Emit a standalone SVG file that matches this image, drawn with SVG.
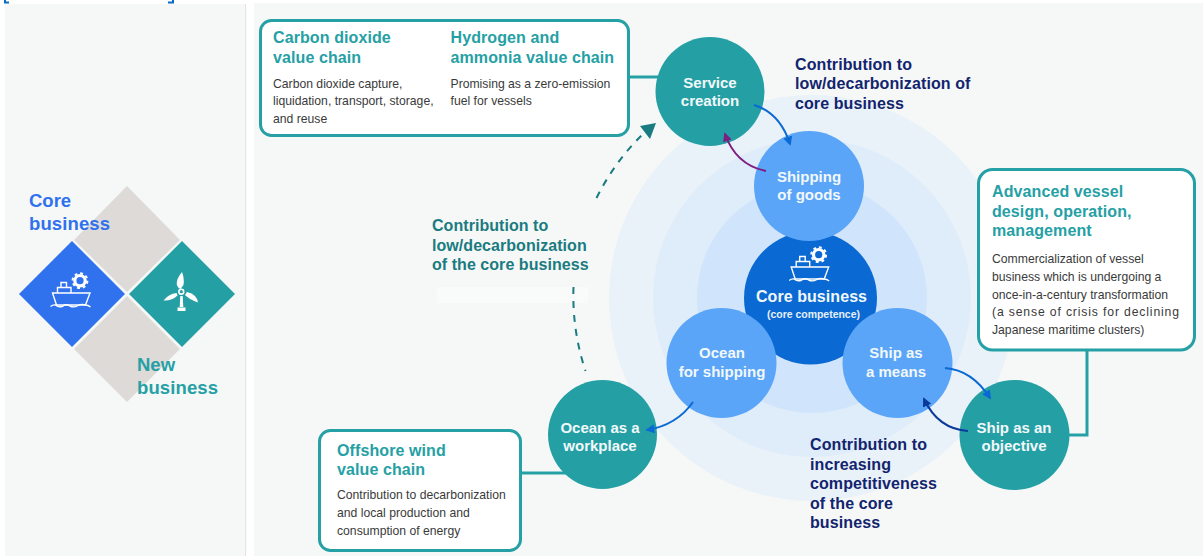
<svg xmlns="http://www.w3.org/2000/svg" width="1203" height="556" viewBox="0 0 1203 556">
<style>
text{font-family:"Liberation Sans",Arial,sans-serif}
.w{font-size:15px;font-weight:700;fill:#f2f8fa;text-anchor:middle}
.t{font-size:16px;font-weight:700;fill:#25a0a5;letter-spacing:.1px}
.b{font-size:12.2px;fill:#3a3a3a}
.n{font-size:16px;font-weight:700;fill:#12246e;letter-spacing:.1px}
.g{font-size:16px;font-weight:700;fill:#1a7b80;letter-spacing:.05px}
.box{fill:#fff;stroke:#25a0a5;stroke-width:3}
.tc{fill:#24a0a5}
.lb{fill:#5aa5f8}
.line{fill:none;stroke:#25a0a5;stroke-width:3}
.ar{fill:none;stroke-width:2}
.dash{fill:none;stroke:#1a7b80;stroke-width:2;stroke-dasharray:7 7}
.ic{fill:none;stroke:#fff;stroke-width:1.4}
</style>
<defs>
<g id="ship">
<path class="ic" d="M52.5 293H90L85.5 305H56.5Z"/>
<path class="ic" d="M57.5 293V287.5H71V293M61 287.5V282.5H66.5V287.5"/>
<path class="ic" d="M50.5 306.5Q53 304.5 55.5 305Q59 308 63 306Q66 303.5 70 306Q74 308 78 305.5Q82 303.5 85.5 305Q88 305 90.5 307"/>
<circle cx="80" cy="280.7" r="5.2" fill="none" stroke="#fff" stroke-width="3.2"/>
<circle cx="80" cy="280.7" r="7.4" fill="none" stroke="#fff" stroke-width="2" stroke-dasharray="2.9 2.9"/>
</g>
<marker id="mb" viewBox="0 0 10 10" refX="8" refY="5" markerWidth="4.6" markerHeight="4.6" orient="auto" markerUnits="strokeWidth"><path d="M0 0L10 5L0 10Z" fill="#0a69d2"/></marker>
<marker id="mp" viewBox="0 0 10 10" refX="8" refY="5" markerWidth="4.6" markerHeight="4.6" orient="auto" markerUnits="strokeWidth"><path d="M0 0L10 5L0 10Z" fill="#7b1f82"/></marker>
<marker id="mn" viewBox="0 0 10 10" refX="8" refY="5" markerWidth="4.6" markerHeight="4.6" orient="auto" markerUnits="strokeWidth"><path d="M0 0L10 5L0 10Z" fill="#0a3a9a"/></marker>
</defs>
<rect width="1203" height="556" fill="#fff"/>
<path d="M5 0V2.5H9M173 0V2.5H168" fill="none" stroke="#0a6cc4" stroke-width="2"/>
<rect x="5" y="4" width="240" height="552" fill="#f6f8f8"/>
<rect x="245" y="4" width="1.2" height="552" fill="#e4e6e6"/>
<rect x="254" y="3" width="949" height="553" fill="#f6f8f8"/>
<g id="legend">
<path d="M127 186L180 240L127 292L74 240Z" fill="#dedad8"/>
<path d="M127 296L180 349L127 402L74 349Z" fill="#dedad8"/>
<path d="M72 241L125 294L72 347L19 294Z" fill="#3071ee"/>
<path d="M182 241L235 294L182 347L129 294Z" class="tc"/>
<use href="#ship"/>
<g fill="#fff">
<path d="M182 272Q176 279 176.800 285Q178 288 180.500 289L183.500 285Q184.500 278 182 272Z"/>
<path d="M163.500 300.500Q172 301 177.500 295.500L176.500 293Q169 293.500 163.500 300.500Z"/>
<path d="M198 302.500Q197 294.500 187 292L185 295Q190 300 198 302.500Z"/>
<path d="M180.300 296H182.700L183.300 307H179.700Z"/>
<rect x="177.500" y="307.500" width="8" height="3.500"/>
<circle cx="181.300" cy="291.700" r="3.200"/>
</g>
<circle cx="181.300" cy="291.700" r="1.600" fill="#24a0a5"/>
<text x="29" y="207" font-size="18.500" font-weight="700" fill="#3071ee">Core</text>
<text x="29" y="230" font-size="18.500" font-weight="700" fill="#3071ee" textLength="81">business</text>
<text x="137" y="371" font-size="18.500" font-weight="700" fill="#25a0a5">New</text>
<text x="137" y="394" font-size="18.500" font-weight="700" fill="#25a0a5" textLength="81">business</text>
</g>
<g id="rings">
<circle cx="812" cy="298" r="203" fill="#e9f1f9"/>
<circle cx="812" cy="298" r="159" fill="#dfecfa"/>
<circle cx="812" cy="298" r="115" fill="#d0e5fc"/>
</g>
<rect x="437" y="287" width="151" height="16" fill="#f9fafa"/>
<g id="connectors">
<path class="line" d="M628 77H662"/>
<path class="line" d="M1087 350V435H1066"/>
<path class="line" d="M521 473H570"/>
<path class="dash" d="M596.500 198A238 238 0 0 1 646 131"/>
<path class="dash" d="M573.500 287A238 238 0 0 0 585.500 371"/>
<path d="M656 123L640 126L650 139Z" fill="#1a7b80"/>
</g>
<g id="core"><circle cx="810.500" cy="298" r="66.500" fill="#0a69d2"/>
<use href="#ship" x="738.700" y="-26"/>
<text x="756" y="302" font-size="16" font-weight="700" fill="#f2f8fa" textLength="111">Core business</text>
<text x="767" y="318" font-size="10.500" font-weight="700" fill="#e6f0fa" textLength="93">(core competence)</text></g>
<g id="shipping"><circle cx="809" cy="186" r="55" class="lb"/><text class="w" x="809" y="182">Shipping</text><text class="w" x="809" y="200">of goods</text></g>
<g id="means"><circle cx="897.500" cy="363" r="55" class="lb"/><text class="w" x="896" y="358">Ship as</text><text class="w" x="896" y="377">a means</text></g>
<g id="oceanship"><circle cx="721.500" cy="363" r="55" class="lb"/><text class="w" x="722" y="358">Ocean</text><text class="w" x="722" y="377">for shipping</text></g>
<g id="service"><circle cx="710" cy="91.500" r="54.500" class="tc"/><text class="w" x="710" y="88">Service</text><text class="w" x="710" y="106">creation</text></g>
<g id="objective"><circle cx="1014.500" cy="435" r="55" class="tc"/><text class="w" x="1014" y="433">Ship as an</text><text class="w" x="1014" y="451">objective</text></g>
<g id="workplace"><circle cx="602.500" cy="434.500" r="54.500" class="tc"/><text class="w" x="600" y="433">Ocean as a</text><text class="w" x="600" y="451">workplace</text></g>
<g id="arrows">
<path class="ar" stroke="#0a69d2" marker-end="url(#mb)" d="M754 105Q780 113 790 144"/>
<path class="ar" stroke="#7b1f82" marker-end="url(#mp)" d="M766 171Q736 165 725 134"/>
<path class="ar" stroke="#0a69d2" marker-end="url(#mb)" d="M945 368Q972 370 990 398"/>
<path class="ar" stroke="#0a3a9a" marker-end="url(#mn)" d="M968 431Q938 429 924 399"/>
<path class="ar" stroke="#0a69d2" marker-end="url(#mb)" d="M693 402Q677 425 647 430"/>
</g>
<g id="box-top"><rect class="box" x="260.500" y="20.500" width="368" height="115" rx="11"/>
<text class="t" x="273" y="43">Carbon dioxide</text><text class="t" x="273" y="63">value chain</text>
<text class="b" x="273" y="88">Carbon dioxide capture,</text><text class="b" x="273" y="105">liquidation, transport, storage,</text><text class="b" x="273" y="123">and reuse</text>
<text class="t" x="450.500" y="43">Hydrogen and</text><text class="t" x="450.500" y="63">ammonia value chain</text>
<text class="b" x="450.500" y="88">Promising as a zero-emission</text><text class="b" x="450.500" y="105">fuel for vessels</text></g>
<g id="box-right"><rect class="box" x="978.500" y="169.500" width="216" height="180.500" rx="14"/>
<text class="t" x="992" y="197">Advanced vessel</text><text class="t" x="992" y="217">design, operation,</text><text class="t" x="992" y="236">management</text>
<text class="b" x="992" y="263">Commercialization of vessel</text><text class="b" x="992" y="281">business which is undergoing a</text><text class="b" x="992" y="299">once-in-a-century transformation</text><text class="b" x="992" y="316" textLength="187">(a sense of crisis for declining</text><text class="b" x="992" y="334">Japanese maritime clusters)</text></g>
<g id="box-bottom"><rect class="box" x="319.500" y="430.500" width="201" height="120" rx="11"/>
<text class="t" x="337" y="456">Offshore wind</text><text class="t" x="337" y="475">value chain</text>
<text class="b" x="337" y="499">Contribution to decarbonization</text><text class="b" x="337" y="517">and local production and</text><text class="b" x="337" y="535">consumption of energy</text></g>
<g id="labels">
<text class="n" x="795" y="70">Contribution to</text><text class="n" x="795" y="89">low/decarbonization of</text><text class="n" x="795" y="109">core business</text>
<text class="n" x="810" y="450">Contribution to</text><text class="n" x="810" y="470">increasing</text><text class="n" x="810" y="489">competitiveness</text><text class="n" x="810" y="509">of the core</text><text class="n" x="810" y="528">business</text>
<text class="g" x="432" y="231">Contribution to</text><text class="g" x="432" y="251">low/decarbonization</text><text class="g" x="432" y="270">of the core business</text>
</g>
</svg>
